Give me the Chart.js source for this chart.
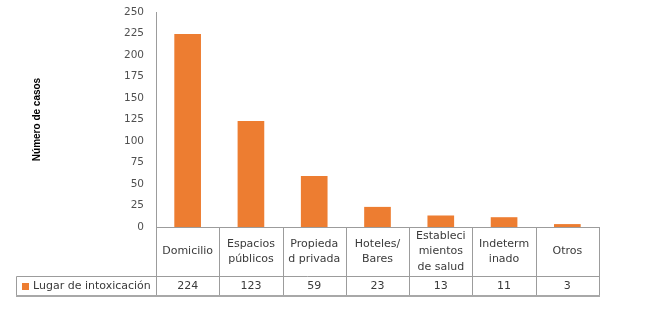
<!DOCTYPE html>
<html>
<head>
<meta charset="utf-8">
<script src="https://cdn.jsdelivr.net/npm/chart.js@4/dist/chart.umd.min.js"></script>
<style>
html,body{margin:0;padding:0;background:#fff;}
#c{display:block;}
</style>
</head>
<body>
<canvas id="c" width="651" height="333"></canvas>
<script>
const categories = [
  ["Domicilio"],
  ["Espacios", "públicos"],
  ["Propieda", "d privada"],
  ["Hoteles/", "Bares"],
  ["Estableci", "mientos", "de salud"],
  ["Indeterm", "inado"],
  ["Otros"]
];
const seriesName = "Lugar de intoxicación";
const values = [224, 123, 59, 23, 13, 11, 3];
const yTicks = [0, 25, 50, 75, 100, 125, 150, 175, 200, 225, 250];
const yTitle = "Número de casos";

const BAR = '#ED7D31';
const LINE = '#9C9C9C';
const TXT = '#3A3A3A';
const FONT = '"DejaVu Sans", Verdana, sans-serif';

const tablePlugin = {
  id: 'dataTable',
  afterDraw(chart) {
    const ctx = chart.ctx;
    const xs = chart.scales.x;
    const ca = chart.chartArea;
    const n = categories.length;
    const colW = (ca.right - ca.left) / n;
    const yTop = ca.bottom;
    const yMid = ca.bottom + 49;
    const yBot = ca.bottom + 68;
    const legLeft = 16.5;
    ctx.save();
    ctx.strokeStyle = LINE;
    ctx.lineWidth = 1;
    ctx.beginPath();
    ctx.moveTo(ca.left, Math.round(yTop) + 0.5);
    ctx.lineTo(ca.right, Math.round(yTop) + 0.5);
    ctx.moveTo(legLeft, Math.round(yMid) + 0.5);
    ctx.lineTo(ca.right, Math.round(yMid) + 0.5);
    ctx.moveTo(legLeft, Math.round(yMid) + 0.5);
    ctx.lineTo(legLeft, Math.round(yBot) + 0.5);
    for (let i = 0; i <= n; i++) {
      const x = Math.round(ca.left + i * colW) + 0.5;
      ctx.moveTo(x, Math.round(yTop));
      ctx.lineTo(x, Math.round(yBot) + 1);
    }
    ctx.stroke();
    ctx.lineWidth = 2;
    ctx.strokeStyle = '#A8A8A8';
    ctx.beginPath();
    ctx.moveTo(legLeft - 0.5, Math.round(yBot) + 1);
    ctx.lineTo(ca.right + 1, Math.round(yBot) + 1);
    ctx.stroke();

    ctx.fillStyle = TXT;
    ctx.font = '11px ' + FONT;
    ctx.textAlign = 'center';
    ctx.textBaseline = 'middle';
    const lh = 15.5;
    for (let i = 0; i < n; i++) {
      const cx = xs.getPixelForValue(i);
      const lines = categories[i];
      const cy = (yTop + yMid) / 2;
      const start = cy - (lines.length - 1) * lh / 2;
      lines.forEach((t, k) => ctx.fillText(t, cx, start + k * lh));
      ctx.fillText(String(values[i]), cx, (yMid + yBot) / 2 + 0.5);
    }
    ctx.fillStyle = BAR;
    ctx.fillRect(22, Math.round((yMid + yBot) / 2) - 3, 7, 7);
    ctx.fillStyle = TXT;
    ctx.textAlign = 'left';
    ctx.fillText(seriesName, 33, (yMid + yBot) / 2 + 0.5);
    ctx.restore();
  }
};

new Chart(document.getElementById('c'), {
  type: 'bar',
  data: {
    labels: categories,
    datasets: [{
      label: seriesName,
      data: values,
      backgroundColor: BAR,
      borderWidth: 0,
      barThickness: 26
    }]
  },
  options: {
    responsive: false,
    animation: false,
    devicePixelRatio: 1,
    layout: { padding: { left: 27, top: 12, right: 52, bottom: 106 } },
    plugins: { legend: { display: false }, tooltip: { enabled: false } },
    scales: {
      x: {
        display: false,
        offset: true
      },
      y: {
        min: 0, max: 250,
        afterBuildTicks(scale) { scale.ticks = yTicks.map(v => ({ value: v })); },
        afterFit(scale) { scale.width = 129; scale.paddingTop = 0; scale.paddingBottom = 0; },
        grid: { display: false, drawTicks: false },
        border: { display: true, color: LINE, width: 1 },
        ticks: { padding: 12, color: '#505050', font: { family: FONT, size: 10.5 } },
        title: {
          display: true, text: yTitle, color: '#000',
          font: { family: '"Liberation Sans", Arial, sans-serif', size: 10, weight: 'bold' },
          padding: { top: 4, bottom: 4 }
        }
      }
    }
  },
  plugins: [tablePlugin]
});
</script>
</body>
</html>
